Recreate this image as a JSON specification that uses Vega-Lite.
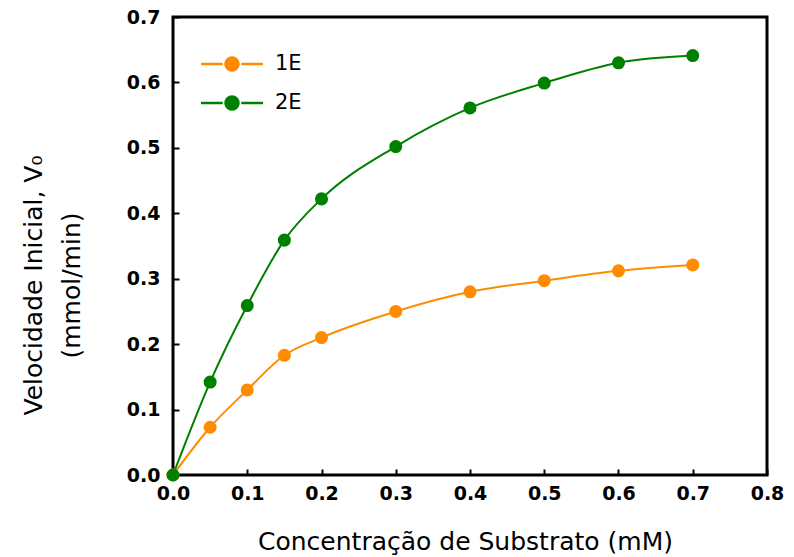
{
  "$schema": "https://vega.github.io/schema/vega-lite/v6.json",
  "width": 594,
  "height": 458,
  "autosize": {"type": "none"},
  "padding": {"left": 173, "top": 17, "right": 27, "bottom": 82},
  "background": "white",
  "config": {
    "view": {"stroke": "black", "strokeWidth": 3},
    "axis": {"domain": false, "grid": false, "tickColor": "black", "tickWidth": 2, "tickSize": -6,
      "labelFlush": false, "labelOverlap": false,
      "labelFont": "DejaVu Sans", "labelFontWeight": "bold", "labelFontSize": 19, "labelColor": "black",
      "titleFont": "DejaVu Sans", "titleFontWeight": "normal", "titleFontSize": 25, "titleColor": "black"}
  },
  "data": {"values": [
    {"s": "1E", "x": 0, "y": 0}, {"s": "1E", "x": 0.05, "y": 0.073}, {"s": "1E", "x": 0.1, "y": 0.13},
    {"s": "1E", "x": 0.15, "y": 0.183}, {"s": "1E", "x": 0.2, "y": 0.21}, {"s": "1E", "x": 0.3, "y": 0.25},
    {"s": "1E", "x": 0.4, "y": 0.28}, {"s": "1E", "x": 0.5, "y": 0.297}, {"s": "1E", "x": 0.6, "y": 0.312},
    {"s": "1E", "x": 0.7, "y": 0.321},
    {"s": "2E", "x": 0, "y": 0}, {"s": "2E", "x": 0.05, "y": 0.142}, {"s": "2E", "x": 0.1, "y": 0.259},
    {"s": "2E", "x": 0.15, "y": 0.359}, {"s": "2E", "x": 0.2, "y": 0.422}, {"s": "2E", "x": 0.3, "y": 0.502},
    {"s": "2E", "x": 0.4, "y": 0.561}, {"s": "2E", "x": 0.5, "y": 0.599}, {"s": "2E", "x": 0.6, "y": 0.63},
    {"s": "2E", "x": 0.7, "y": 0.641}
  ]},
  "encoding": {
    "x": {"field": "x", "type": "quantitative", "scale": {"domain": [0, 0.8], "nice": false},
      "axis": {"values": [0, 0.1, 0.2, 0.3, 0.4, 0.5, 0.6, 0.7, 0.8], "format": ".1f", "labelPadding": 15,
        "title": "Concentração de Substrato (mM)", "titleX": 292, "titleY": 66, "titleBaseline": "middle"}},
    "y": {"field": "y", "type": "quantitative", "scale": {"domain": [0, 0.7], "nice": false},
      "axis": {"values": [0, 0.1, 0.2, 0.3, 0.4, 0.5, 0.6, 0.7], "format": ".1f", "labelPadding": 19,
        "title": ["Velocidade Inicial, V₀", "(mmol/min)"], "titleLineHeight": 38, "titleX": -152, "titleY": 268,
        "titleBaseline": "top", "titleAlign": "center", "titleAngle": -90}},
    "color": {"field": "s", "type": "nominal",
      "scale": {"domain": ["1E", "2E"], "range": ["#FF8C00", "#008000"]},
      "legend": {"orient": "none", "legendX": 42, "legendY": 30, "title": null,
        "symbolType": "M-2,0L-0.6,0M0.6,0L2,0M-0.42,0A0.42,0.42 0 1,1 0.42,0A0.42,0.42 0 1,1 -0.42,0Z",
        "symbolSize": 961, "symbolStrokeWidth": 2.5, "rowPadding": 10, "labelFont": "DejaVu Sans",
        "labelFontSize": 21, "labelColor": "black", "labelOffset": 26}}
  },
  "layer": [
    {"mark": {"type": "line", "interpolate": "monotone", "strokeWidth": 2}},
    {"mark": {"type": "point", "filled": true, "size": 170, "opacity": 1}}
  ]
}
